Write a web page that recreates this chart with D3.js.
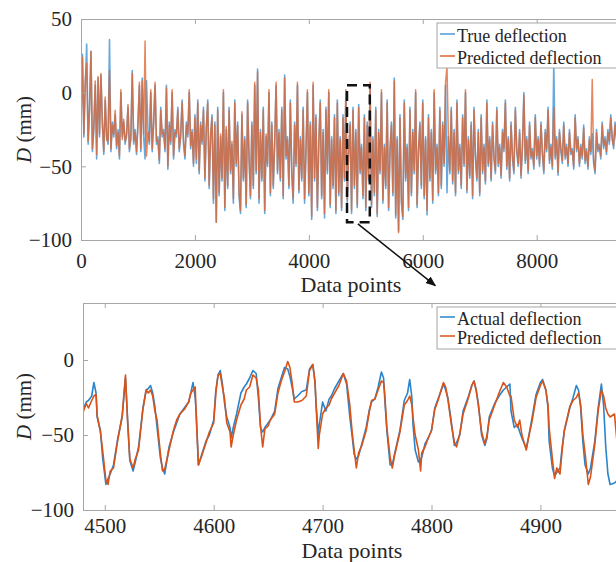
<!DOCTYPE html>
<html>
<head>
<meta charset="utf-8">
<script src="https://cdn.jsdelivr.net/npm/d3@7"></script>
<style>
  body { margin: 0; background: #fff; }
  svg { display: block; }
  text { font-family: "Liberation Serif", "Times New Roman", serif; fill: #262626; }
</style>
</head>
<body>
<svg width="616" height="562"></svg>
<script>
// full record, one value every 25 data points
var step = 25;
var trueDefl = [
  -20, 26, -30, 5, 33, -35, -10, 28, -40, -25, 5, -45, 10, -30, 12, -20, -42, -5, -30, -35,
  36, -40, -20, -30, -15, -38, -25, -45, 0, -30, -20, -35, -28, -10, -40, -30, 15, -35, -25, -42,
  -20, 5, -40, 10, -30, -45, 8, -25, -35, 0, -40, -20, 5, -35, -30, -48, -10, -30, -25, -40,
  5, -52, -20, -35, 0, -45, -25, -30, -10, -40, -28, -5, -35, -45, -20, -30, 0, -38, -25, -50,
  -15, -48, -5, -55, -20, -35, -10, -60, -25, -5, -65, -30, -15, -75, -20, -88, -10, -70, -30, -60,
  0, -80, -25, -65, -10, -55, -35, -75, -5, -50, -20, -70, -82, -15, -60, -30, -78, -5, -45, -72,
  -20, -65, 5, -55, 16, -75, -25, -60, -10, -82, -30, -50, 0, -70, -20, -65, -35, 5, -55, -25,
  -60, -10, -72, 12, -45, -30, -65, -5, -55, -75, -20, -50, 5, -68, -30, -60, -10, -75, -40, 0,
  -70, -20, -86, 5, -60, -15, -80, -35, -5, -72, -25, -85, -10, -55, 0, -78, -30, -65, -15, -82,
  -5, -70, -30, -80, -15, -60, 0, -75, -40, -20, -82, -10, -65, -25, -78, -8, -55, -35, -72, -15,
  -80, -20, -60, 5, -78, -30, -70, -10, -84, -25, -55, 0, -75, -35, -65, -5, -80, -40, -20, -70,
  10, -85, -30, -94, -15, -75, -86, -5, -60, -35, -80, -10, -70, -25, -55, 0, -78, -40, -20, -65,
  -5, -72, -30, -83, -15, -60, -25, -75, 0, -55, -35, -70, -10, -65, -20, -50, 5, -68, -30, -55,
  -10, -62, -25, -70, -5, -55, -35, -65, -15, -50, 0, -68, -30, -58, -20, -72, -10, -45, -60, -25,
  -70, -15, -55, -35, -62, -5, -50, -30, -60, -20, -45, -55, -10, -50, -35, -58, -25, -40, -5, -52,
  -30, -60, -20, -45, -55, -10, -40, -50, -25, -58, -35, 0, -48, -30, -55, -20, -45, -38, -52, -15,
  -45, -30, -50, -20, -42, -55, -25, -40, -10, -48, -35, -52, 20, -45, -30, -56, -25, -40, -48, -20,
  -45, -35, -50, -25, -42, -38, -52, -15, -40, -30, -50, -35, -45, -22, -48, -38, -52, -30, -42, -28,
  -48, -55, -25, -40, -35, -45, -20, -38, -30, -42, -25, -35, -15, -30, -38, -20, -32, -25, -18, -30,
  -22, -35, -20, -28, -30, -15, -25, -32, -20, -28, -25, -30, -20, -25, -28, -22, -30, -25, -20, -25
];
var predDefl = [
  -22, 24, -28, 8, 20, -33, -12, 28, -38, -22, 8, -42, 11, -28, 13, -22, -40, -3, -32, -33,
  15, -38, -22, -28, -12, -36, -27, -43, 2, -32, -18, -33, -30, -8, -38, -32, 13, -33, -27, -40,
  -22, 7, -38, 8, -28, 35, -43, -27, -33, 2, -38, -22, 7, -33, -32, -46, -12, -28, -27, -38,
  3, -50, -22, -33, 2, -43, -27, -28, -12, -38, -30, -7, -33, -43, -22, -28, 2, -36, -27, -48,
  -17, -45, -7, -53, -22, -33, -12, -58, -23, -7, -63, -28, -17, -72, -22, -88, -12, -68, -28, -58,
  2, -78, -23, -63, -12, -53, -33, -72, -7, -48, -22, -68, -80, -13, -58, -32, -76, -7, -43, -70,
  -22, -63, 7, -53, 14, -72, -27, -58, -12, -80, -28, -48, 2, -68, -22, -63, -33, 7, -53, -27,
  -58, -12, -70, 10, -43, -32, -63, -7, -53, -72, -22, -48, 7, -66, -32, -58, -12, -72, -38, 2,
  -68, -22, -84, 7, -58, -17, -78, -33, -7, -70, -27, -82, -12, -53, 2, -76, -32, -63, -17, -80,
  -7, -68, -32, -78, -17, -58, 2, -73, -38, -22, -80, -12, -63, -27, -76, -10, -53, -37, -70, -17,
  -78, -22, -58, 7, -76, -32, -68, -12, -82, -27, -53, 2, -73, -37, -63, -7, -78, -38, -22, -68,
  8, -83, -32, -95, -17, -73, -84, -7, -58, -37, -78, -12, -68, -27, -53, 2, -76, -38, -22, -63,
  -7, -70, -32, -80, -17, -58, -27, -73, 2, -53, -37, -68, -12, -63, -22, -48, 7, 18, -32, -53,
  -12, -60, -27, -68, -7, -53, -37, -63, -17, -48, 2, -66, -32, -56, -22, -70, -12, -43, -58, -27,
  -68, -17, -53, -37, -60, -7, -48, -32, -58, -22, -43, -53, -12, -48, -37, -56, -27, -38, -7, -50,
  -32, -58, -22, -43, -53, -12, -38, -48, -27, -56, -37, -2, -46, -32, -53, -22, -43, -40, -50, -17,
  -43, -32, -48, -22, -40, -53, -27, -38, -12, -46, -37, -50, -10, -43, -32, -54, -27, -38, -46, -22,
  -43, -37, -48, -27, -40, -40, -50, -17, -38, -32, -48, -37, -43, -24, -46, -40, -50, -32, -40, 9,
  -46, -53, -27, -38, -37, -43, -22, -36, -32, -40, -27, -33, -17, -32, -36, -22, -30, -27, -20, -28,
  -24, -33, -22, -26, -32, -17, -27, -30, -22, -26, -27, -28, -22, -23, -30, -24, -28, -27, -22, -23
];

// zoomed window
var zoomIdx = [
  4480, 4483, 4485, 4488, 4490, 4492, 4493, 4496, 4498, 4501,
  4503, 4505, 4508, 4512, 4516, 4519, 4521, 4523, 4526, 4528,
  4531, 4535, 4538, 4540, 4542, 4544, 4546, 4548, 4551, 4553,
  4555, 4559, 4563, 4566, 4569, 4573, 4577, 4579, 4581, 4583,
  4584, 4586, 4589, 4593, 4596, 4600, 4602, 4604, 4606, 4608,
  4610, 4612, 4615, 4616, 4618, 4621, 4625, 4628, 4630, 4633,
  4636, 4639, 4641, 4643, 4645, 4647, 4650, 4652, 4656, 4659,
  4662, 4665, 4668, 4670, 4672, 4674, 4677, 4681, 4685, 4688,
  4691, 4693, 4694, 4696, 4697, 4700, 4703, 4706, 4708, 4711,
  4715, 4719, 4722, 4725, 4727, 4729, 4731, 4733, 4736, 4740,
  4743, 4745, 4748, 4751, 4754, 4756, 4757, 4759, 4762, 4764,
  4766, 4771, 4775, 4778, 4780, 4782, 4783, 4785, 4788, 4790,
  4791, 4794, 4797, 4800, 4803, 4806, 4808, 4811, 4813, 4815,
  4818, 4821, 4823, 4826, 4829, 4834, 4837, 4839, 4841, 4843,
  4846, 4849, 4851, 4853, 4858, 4862, 4866, 4869, 4872, 4873,
  4876, 4879, 4881, 4883, 4887, 4889, 4892, 4896, 4900, 4902,
  4905, 4907, 4908, 4911, 4913, 4915, 4918, 4920, 4922, 4927,
  4930, 4933, 4935, 4937, 4939, 4941, 4944, 4946, 4950, 4953,
  4956, 4958, 4960, 4962, 4964, 4968, 4971, 4973
];
var zoomActual = [
  -33, -28, -27, -24, -15, -22, -38, -47, -65, -83,
  -79, -76, -70, -52, -38, -12, -40, -67, -74, -68,
  -58, -32, -20, -19, -17, -22, -31, -45, -65, -72,
  -76, -58, -48, -42, -36, -32, -28, -22, -15, -25,
  -36, -70, -63, -54, -50, -40, -20, -10, -7, -16,
  -29, -38, -45, -52, -45, -36, -22, -18, -16, -12,
  -7, -9, -25, -45, -48, -45, -42, -40, -34, -19,
  -12, -5, -6, -11, -18, -26, -24, -21, -20, -6,
  -3, -15, -29, -50, -43, -28, -34, -26, -24, -19,
  -14, -9, -16, -38, -50, -63, -66, -64, -56, -45,
  -33, -28, -26, -18, -8, -12, -25, -47, -70, -70,
  -63, -47, -27, -22, -13, -25, -43, -60, -68, -66,
  -65, -56, -52, -47, -32, -26, -22, -16, -20, -25,
  -40, -57, -55, -50, -34, -24, -17, -14, -20, -29,
  -50, -57, -52, -38, -29, -24, -20, -18, -16, -34,
  -45, -43, -48, -52, -59, -52, -40, -23, -15, -13,
  -20, -32, -54, -72, -77, -75, -72, -58, -47, -32,
  -25, -17, -20, -32, -55, -70, -76, -72, -54, -32,
  -16, -30, -58, -76, -83, -82, -80, -60
];
var zoomPred = [
  -35, -29, -32, -27, -24, -23, -37, -48, -60, -80,
  -83, -74, -72, -53, -37, -10, -42, -66, -72, -66,
  -60, -33, -20, -22, -20, -24, -34, -40, -62, -74,
  -73, -60, -47, -40, -36, -33, -28, -22, -20, -18,
  -38, -70, -64, -55, -48, -42, -22, -10, -9, -18,
  -26, -42, -48, -58, -50, -40, -30, -26, -20, -18,
  -10, -12, -20, -44, -58, -46, -44, -40, -36, -22,
  -14, -8, -1, -5, -15, -28, -28, -27, -24, -7,
  -3, -14, -30, -59, -50, -36, -32, -30, -26, -22,
  -17, -9, -14, -30, -47, -60, -72, -62, -57, -47,
  -34, -27, -26, -20, -14, -15, -22, -45, -65, -72,
  -64, -48, -30, -27, -24, -30, -38, -50, -60, -74,
  -62, -58, -52, -47, -33, -27, -22, -15, -18, -26,
  -42, -55, -58, -49, -36, -25, -17, -14, -20, -30,
  -48, -56, -50, -40, -30, -22, -15, -18, -24, -24,
  -40, -45, -40, -50, -60, -52, -42, -25, -17, -14,
  -20, -30, -45, -66, -79, -72, -76, -60, -47, -31,
  -27, -25, -22, -30, -50, -62, -83, -78, -56, -34,
  -20, -24, -32, -36, -38, -36, -60, -76
];

var topXTicks = [0, 2000, 4000, 6000, 8000];
var topYTicks = [-100, -50, 0, 50];
var botXTicks = [4500, 4600, 4700, 4800, 4900];
var botYTicks = [-100, -50, 0];
var topLegend = ["True deflection", "Predicted deflection"];
var botLegend = ["Actual deflection", "Predicted deflection"];
var boxSpan = [4670, 5070], boxLevels = [-88, 5];

var blue = "#2a84cc", orange = "#d95319", axisCol = "#a6a6a6";

var svg = d3.select("svg");
var defs = svg.append("defs");
defs.append("marker").attr("id", "head")
    .attr("viewBox", "0 0 10 10").attr("refX", 9).attr("refY", 5)
    .attr("markerWidth", 7).attr("markerHeight", 7).attr("orient", "auto")
  .append("path").attr("d", "M0,1L10,5L0,9Z").attr("fill", "#111");

function drawPanel(o) {
  var x = d3.scaleLinear().domain(o.xDomain).range([o.left, o.right]);
  var y = d3.scaleLinear().domain(o.yDomain).range([o.bottom, o.top]);
  var g = svg.append("g");

  defs.append("clipPath").attr("id", o.id)
    .append("rect").attr("x", o.left).attr("y", o.top)
    .attr("width", o.right - o.left).attr("height", o.bottom - o.top);

  var plot = g.append("g").attr("clip-path", "url(#" + o.id + ")");
  o.series.forEach(function(s) {
    var line = d3.line()
        .x(function(d, i) { return x(s.xs(i)); })
        .y(function(d) { return y(d); });
    plot.append("path")
        .attr("d", line(s.values))
        .attr("fill", "none")
        .attr("stroke", s.color)
        .attr("stroke-width", s.width)
        .attr("stroke-opacity", s.opacity)
        .attr("stroke-linejoin", "round");
  });

  function styleAxis(a) {
    a.select(".domain").attr("stroke", axisCol);
    a.selectAll(".tick line").attr("stroke", axisCol);
    a.selectAll("text").attr("font-size", 21).attr("fill", "#262626")
      .attr("font-family", "'Liberation Serif', serif");
  }

  g.append("g").attr("transform", "translate(0," + o.bottom + ")")
    .call(d3.axisBottom(x).tickValues(o.xTicks).tickSize(-5).tickPadding(o.xPad).tickFormat(d3.format("d")))
    .call(styleAxis);
  g.append("g").attr("transform", "translate(0," + o.top + ")")
    .call(d3.axisTop(x).tickValues(o.xTicks).tickSize(-5).tickFormat(""))
    .call(styleAxis);
  g.append("g").attr("transform", "translate(" + o.left + ",0)")
    .call(d3.axisLeft(y).tickValues(o.yTicks).tickSize(-5).tickPadding(9)
      .tickFormat(function(d) { return d < 0 ? "\u2212" + Math.abs(d) : d; }))
    .call(styleAxis);
  g.append("g").attr("transform", "translate(" + o.right + ",0)")
    .call(d3.axisRight(y).tickValues(o.yTicks).tickSize(-5).tickFormat(""))
    .call(styleAxis);

  g.append("text").attr("x", o.labelX).attr("y", o.labelY)
    .attr("text-anchor", "middle").attr("font-size", 22).text("Data points");

  var yl = g.append("text")
    .attr("transform", "translate(31," + ((o.top + o.bottom) / 2) + ") rotate(-90)")
    .attr("text-anchor", "middle").attr("font-size", 21);
  yl.append("tspan").attr("font-style", "italic").text("D");
  yl.append("tspan").text(" (mm)");

  // legend
  var lg = g.append("g").attr("transform", "translate(" + o.legX + "," + o.legY + ")");
  lg.append("rect").attr("width", 185).attr("height", o.legH)
    .attr("fill", "#fff").attr("stroke", axisCol).attr("stroke-width", 1);
  o.legend.forEach(function(name, i) {
    var row = o.legRows[i];
    lg.append("line").attr("x1", 3).attr("x2", 18).attr("y1", row - 8).attr("y2", row - 8)
      .attr("stroke", o.series[i].color).attr("stroke-width", 1.5);
    lg.append("text").attr("x", 20).attr("y", row).attr("font-size", 18).text(name);
  });

  return { x: x, y: y, g: g };
}

var topPanel = drawPanel({
  id: "clipTop", left: 81, right: 621, top: 19, bottom: 240,
  xDomain: [0, 9480], yDomain: [-100, 50],
  xTicks: topXTicks, yTicks: topYTicks, xPad: 13,
  labelX: 351, labelY: 292,
  legX: 437, legY: 23, legH: 45, legRows: [19, 41],
  legend: topLegend,
  series: [
    { values: trueDefl, xs: function(i) { return i * step; }, color: "#4d9ad6", width: 1.6, opacity: 0.85 },
    { values: predDefl, xs: function(i) { return i * step; }, color: "#e06530", width: 1.5, opacity: 0.78 }
  ]
});

drawPanel({
  id: "clipBot", left: 83, right: 621, top: 303, bottom: 510,
  xDomain: [4480, 4974], yDomain: [-100, 38],
  xTicks: botXTicks, yTicks: botYTicks, xPad: 8,
  labelX: 352, labelY: 558,
  legX: 437, legY: 307, legH: 42, legRows: [18, 37],
  legend: botLegend,
  series: [
    { values: zoomActual, xs: function(i) { return zoomIdx[i]; }, color: blue, width: 1.6, opacity: 1 },
    { values: zoomPred, xs: function(i) { return zoomIdx[i]; }, color: orange, width: 1.6, opacity: 1 }
  ]
});

// dashed box marking the zoomed window and the arrow down to it
var tx = topPanel.x, ty = topPanel.y;
svg.append("rect")
  .attr("x", tx(boxSpan[0])).attr("y", ty(boxLevels[1]))
  .attr("width", tx(boxSpan[1]) - tx(boxSpan[0]))
  .attr("height", ty(boxLevels[0]) - ty(boxLevels[1]))
  .attr("fill", "none").attr("stroke", "#111").attr("stroke-width", 2.5)
  .attr("stroke-dasharray", "10,6");
svg.append("line")
  .attr("x1", tx(4860)).attr("y1", ty(-89))
  .attr("x2", tx(6220)).attr("y2", ty(-131))
  .attr("stroke", "#111").attr("stroke-width", 1.5)
  .attr("marker-end", "url(#head)");
</script>
</body>
</html>
